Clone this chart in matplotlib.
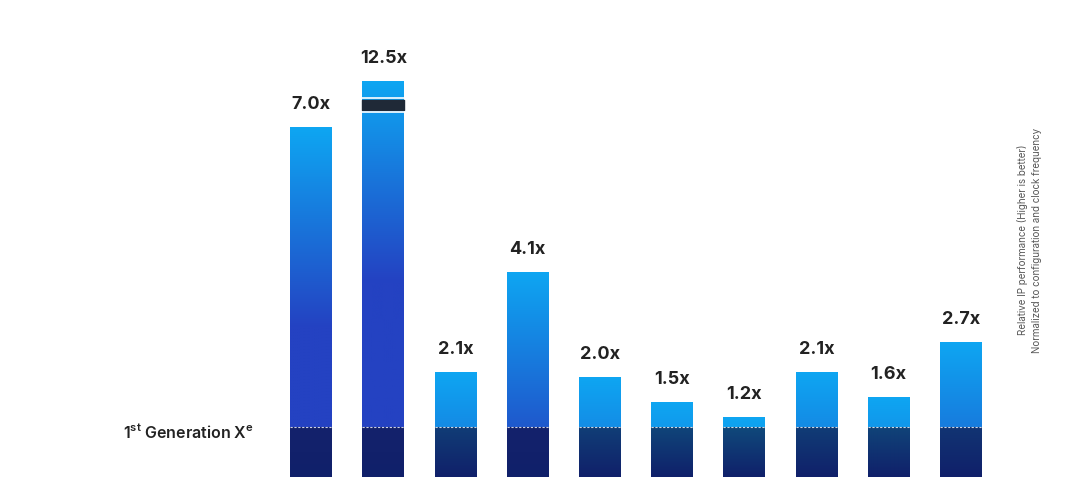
import numpy as np
import matplotlib
matplotlib.use("Agg")
import matplotlib.pyplot as plt
from matplotlib.colors import to_rgb

values = [7.0, 12.5, 2.1, 4.1, 2.0, 1.5, 1.2, 2.1, 1.6, 2.7]
labels = ["7.0x", "12.5x", "2.1x", "4.1x", "2.0x", "1.5x", "1.2x", "2.1x", "1.6x", "2.7x"]
baseline = 1.0
cap = 7.92  # displayed height of truncated bar

fig = plt.figure(figsize=(10.8, 4.8), dpi=100)
ax = fig.add_axes([0, 0, 1, 1])
ax.set_xlim(-4.31, 10.65)
ax.set_ylim(-0.06, 9.54)
ax.axis("off")

light = np.array(to_rgb("#0ea6f2"))
deep = np.array(to_rgb("#2442c2"))
teal = np.array(to_rgb("#0f4c7c"))
navy = np.array(to_rgb("#14226c"))
navy_b = np.array(to_rgb("#10206a"))
w = 0.58

for i, v in enumerate(values):
    top = min(v, cap)
    x0, x1 = i - w / 2, i + w / 2
    # upper segment gradient
    ys = np.linspace(top, baseline, 200)
    t = np.clip((top - ys) / 4.0, 0, 1)[:, None]
    img = light * (1 - t) + deep * t
    ax.imshow(img[:, None, :], extent=(x0, x1, baseline, top), aspect="auto",
              interpolation="bilinear", zorder=2)
    # base segment
    s = min((v - 1) / 3.0, 1.0)
    btop = teal * (1 - s) + navy * s
    yb = np.linspace(0, 1, 100)[:, None]
    bimg = btop * (1 - yb) + navy_b * yb
    ax.imshow(bimg[:, None, :], extent=(x0, x1, 0, baseline), aspect="auto",
              interpolation="bilinear", zorder=2)
    ax.plot([x0, x1], [baseline, baseline], color="white", lw=0.8,
            ls=(0, (2, 1.5)), alpha=0.8, zorder=3)
    if v > cap:
        ax.fill_between([x0, x1], 7.34, 7.54, color="#1f2937", zorder=4)
        ax.plot([x0, x1], [7.30, 7.30], color="white", lw=1.2, zorder=4)
        ax.plot([x0, x1], [7.58, 7.58], color="white", lw=1.2, zorder=4)
    ax.text(i, top + 0.28, labels[i], ha="center", va="bottom", fontsize=13,
            fontweight="bold", color="#222222", family="Inter")

ax.text(-0.8, 0.9, r"1$^{\mathregular{st}}$ Generation X$^{\mathregular{e}}$",
        ha="right", va="center", fontsize=11.5, fontweight="semibold",
        color="#222222", family="Inter")

fig.text(1022 / 1080, 0.50, "Relative IP performance (Higher is better)",
         rotation=90, ha="center", va="center", fontsize=7, color="#555555", family="Inter")
fig.text(1037 / 1080, 0.50, "Normalized to configuration and clock frequency",
         rotation=90, ha="center", va="center", fontsize=7, color="#555555", family="Inter")

fig.savefig("out.png", dpi=100, facecolor="white")
